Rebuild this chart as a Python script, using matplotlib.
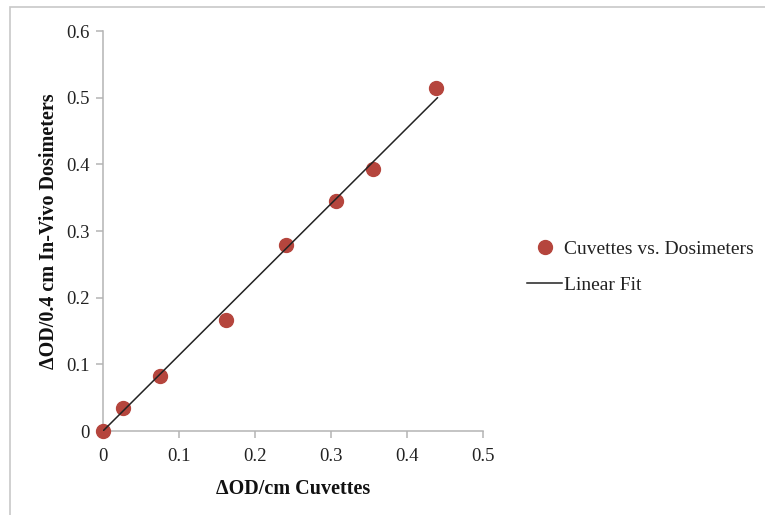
import matplotlib.pyplot as plt
from matplotlib.patches import Rectangle
import numpy as np

# dosimeter response vs. cuvette reference readings
cuvette_od = [0.0, 0.027, 0.075, 0.162, 0.241, 0.307, 0.355, 0.438]
dosimeter_od = [0.0, 0.034, 0.082, 0.166, 0.279, 0.345, 0.393, 0.514]

fit_slope = 1.136
fit_intercept = 0.0
fit_range = [0.0, 0.44]

x_ticks = [0, 0.1, 0.2, 0.3, 0.4, 0.5]
y_ticks = [0, 0.1, 0.2, 0.3, 0.4, 0.5, 0.6]

plt.rcParams["font.family"] = ["Liberation Serif", "DejaVu Serif"]

fig = plt.figure(figsize=(7.65, 5.15), dpi=100)
ax = fig.add_axes([0.1346, 0.1631, 0.4968, 0.7767])

# thin grey frame around the chart area
fig.patches.append(Rectangle((10 / 765, -0.1), 1.2, 1.1 - 7 / 515,
                             transform=fig.transFigure, fill=False,
                             edgecolor="#c8c8c8", linewidth=1.2))

marker_color = "#b5453d"
sc, = ax.plot(cuvette_od, dosimeter_od, "o", color=marker_color,
              markersize=10, label="Cuvettes vs. Dosimeters", zorder=3,
              clip_on=False)
fx = np.array(fit_range)
ln, = ax.plot(fx, fit_slope * fx + fit_intercept, color="#222222",
              linewidth=1.1, label="Linear Fit", zorder=4)

ax.set_xlim(0, 0.5)
ax.set_ylim(0, 0.6)
ax.set_xticks(x_ticks)
ax.set_yticks(y_ticks)
ax.set_xticklabels(["0", "0.1", "0.2", "0.3", "0.4", "0.5"])
ax.set_yticklabels(["0", "0.1", "0.2", "0.3", "0.4", "0.5", "0.6"])

for side in ["top", "right"]:
    ax.spines[side].set_visible(False)
for side in ["left", "bottom"]:
    ax.spines[side].set_color("#b4b4b4")
    ax.spines[side].set_linewidth(1.1)
ax.tick_params(colors="#b4b4b4", labelcolor="#222222", labelsize=13.5,
               length=5, width=1.1, direction="out")
ax.tick_params(axis="y", pad=4.5)
ax.tick_params(axis="x", pad=7)

ax.set_xlabel("ΔOD/cm Cuvettes", fontsize=14.5, fontweight="bold",
              color="#111111", labelpad=10)
ax.set_ylabel("ΔOD/0.4 cm In-Vivo Dosimeters", fontsize=14.5,
              fontweight="bold", color="#111111", labelpad=5)

fig.legend(handles=[sc, ln], loc="center left",
           bbox_to_anchor=(527 / 765, 1 - 267 / 515), frameon=False,
           fontsize=14, handlelength=1.8, handletextpad=0.1,
           labelspacing=0.95, labelcolor="#222222", borderaxespad=0,
           borderpad=0)

fig.savefig("out.png", dpi=100, facecolor="white")
